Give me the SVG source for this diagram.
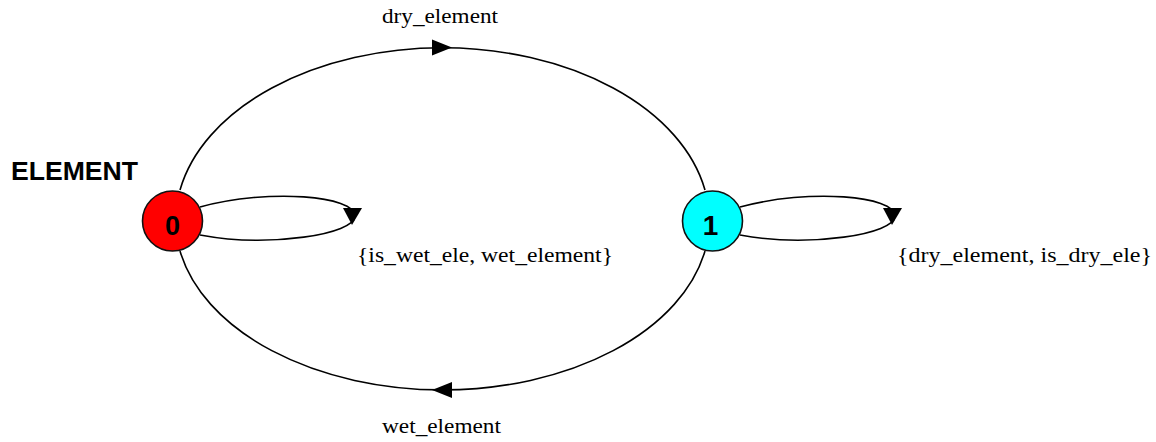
<svg xmlns="http://www.w3.org/2000/svg" width="1156" height="442" viewBox="0 0 1156 442">
  <style>
    .edge { fill: none; stroke: #000; stroke-width: 1.6; }
    .head { fill: #000; stroke: none; }
    .state { stroke: #111; stroke-width: 1.6; }
    .num { font-family: "Liberation Sans", Arial, sans-serif; font-weight: bold; font-size: 28px; text-anchor: middle; fill: #000; }
    .lbl { font-family: "Liberation Serif", "Times New Roman", serif; font-size: 20px; fill: #000; }
    .title { font-family: "Liberation Sans", Arial, sans-serif; font-weight: bold; font-size: 25px; fill: #000; }
  </style>

  <!-- transitions -->
  <g id="edges">
    <!-- 0 -> 1 over the top -->
    <path class="edge" d="M180,190 A267 174 0 0 1 705,190"/>
    <polygon class="head" points="452,47.5 432,39.5 432,55.5"/>
    <text class="lbl" x="382" y="23" textLength="116" lengthAdjust="spacingAndGlyphs">dry_element</text>

    <!-- 1 -> 0 along the bottom -->
    <path class="edge" d="M705,251 A267 170 0 0 1 180,251"/>
    <polygon class="head" points="432,390 452,382 452,398"/>
    <text class="lbl" x="382" y="433" textLength="119" lengthAdjust="spacingAndGlyphs">wet_element</text>

    <!-- self loop on 0 -->
    <path class="edge" d="M200,207 C270,188 355,196 355,216 C355,234 270,248 200,235"/>
    <polygon class="head" points="343,208 362,208 352,225"/>
    <text class="lbl" x="357" y="262" textLength="256" lengthAdjust="spacingAndGlyphs">{is_wet_ele, wet_element}</text>

    <!-- self loop on 1 -->
    <path class="edge" d="M740,207 C810,188 895,196 895,216 C895,234 810,248 740,235"/>
    <polygon class="head" points="883,208 902,208 892,225"/>
    <text class="lbl" x="897" y="262" textLength="255" lengthAdjust="spacingAndGlyphs">{dry_element, is_dry_ele}</text>
  </g>

  <text id="machine-name" class="title" x="11" y="180" textLength="127" lengthAdjust="spacingAndGlyphs">ELEMENT</text>

  <g id="state-0">
    <circle class="state" cx="172.5" cy="221" r="30" fill="#ff0000"/>
    <text class="num" x="172.5" y="235" textLength="15" lengthAdjust="spacingAndGlyphs">0</text>
  </g>

  <g id="state-1">
    <circle class="state" cx="712.5" cy="221" r="30" fill="#00ffff"/>
    <text class="num" x="710.5" y="235">1</text>
  </g>
</svg>
